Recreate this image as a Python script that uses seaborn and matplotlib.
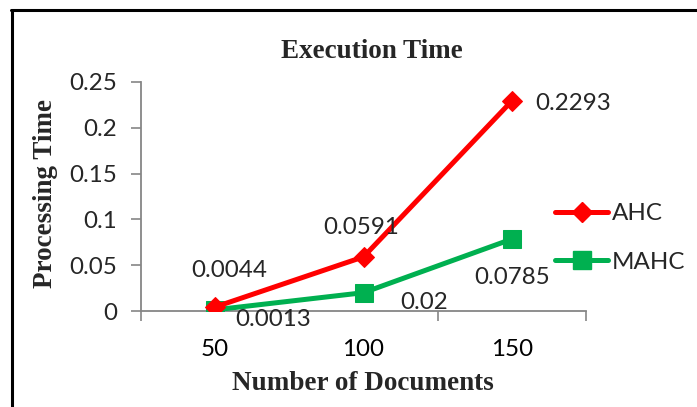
import matplotlib
matplotlib.use("Agg")
import matplotlib.pyplot as plt
import seaborn as sns
import pandas as pd
from matplotlib.lines import Line2D
from matplotlib.ticker import FixedLocator

# Data
documents = ["50", "100", "150"]
ahc_times = [0.0044, 0.0591, 0.2293]
mahc_times = [0.0013, 0.02, 0.0785]
y_ticks = [0, 0.05, 0.1, 0.15, 0.2, 0.25]
y_tick_labels = ["0", "0.05", "0.1", "0.15", "0.2", "0.25"]

sns.set_theme(style="white")
plt.rcParams["font.family"] = ["Lato", "DejaVu Sans"]

rows = []
for i, d in enumerate(documents):
    rows.append({"pos": i, "method": "AHC", "time": ahc_times[i]})
    rows.append({"pos": i, "method": "MAHC", "time": mahc_times[i]})
df = pd.DataFrame(rows)

colors = {"AHC": "#FF0000", "MAHC": "#00B050"}
markers = {"AHC": "D", "MAHC": "s"}
msizes = {"AHC": 10, "MAHC": 12.5}
lw = 3.6
fs = 17.4

fig = plt.figure(figsize=(6.97, 4.07), dpi=100)
ax = fig.add_axes([141 / 697, 1 - 311 / 407, (586 - 141) / 697, (311 - 82) / 407])

for m in ["MAHC", "AHC"]:
    sub = df[df["method"] == m]
    sns.lineplot(data=sub, x="pos", y="time", ax=ax, color=colors[m],
                 linewidth=lw, marker=markers[m], markersize=msizes[m],
                 markeredgecolor=colors[m], legend=False, zorder=3)

ax.set_xlim(-0.5, len(documents) - 0.5)
ax.set_ylim(0, 0.25)
ax.set_yticks(y_ticks)
ax.set_yticklabels(y_tick_labels)
ax.set_xticks(range(len(documents)))
ax.set_xticklabels(documents)
ax.xaxis.set_minor_locator(FixedLocator([i - 0.5 for i in range(len(documents) + 1)]))
ax.tick_params(axis="x", which="major", length=0, pad=20, labelsize=fs, colors="black")
ax.tick_params(axis="x", which="minor", length=7, width=1.2, color="#868686", direction="out", bottom=True)
ax.tick_params(axis="y", length=7, width=1.2, color="#868686", direction="out", left=True,
               labelsize=fs, pad=10)

for s in ["top", "right"]:
    ax.spines[s].set_visible(False)
for s in ["left", "bottom"]:
    ax.spines[s].set_color("#868686")
    ax.spines[s].set_linewidth(1.3)
ax.grid(False)

ax.set_xlabel("")
ax.set_ylabel("")

# Data labels
lab_kw = dict(fontsize=fs, textcoords="offset points", annotation_clip=False)
ax.annotate(f"{ahc_times[0]}", (0, ahc_times[0]), xytext=(10, 26), ha="center", va="center", **lab_kw)
ax.annotate(f"{ahc_times[1]}", (1, ahc_times[1]), xytext=(-2, 21), ha="center", va="center", **lab_kw)
ax.annotate(f"{ahc_times[2]}", (2, ahc_times[2]), xytext=(44, -2), ha="center", va="center", **lab_kw)
ax.annotate(f"{mahc_times[0]}", (0, mahc_times[0]), xytext=(42, -7), ha="center", va="center", **lab_kw)
ax.annotate(f"{mahc_times[1]}", (1, mahc_times[1]), xytext=(44, -7), ha="center", va="center", **lab_kw)
ax.annotate(f"{mahc_times[2]}", (2, mahc_times[2]), xytext=(0, -28), ha="center", va="center", **lab_kw)

# Titles
serif = ["Liberation Serif", "DejaVu Serif"]
fig.text(372 / 697, 1 - 51 / 407, "Execution Time", ha="center", va="center",
         fontsize=19.5, fontweight="bold", family=serif)
fig.text(46 / 697, 1 - 193 / 407, "Processing Time", ha="center", va="center",
         rotation=90, fontsize=19.5, fontweight="bold", family=serif)
fig.text(363 / 697, 1 - 383 / 407, "Number of Documents", ha="center", va="center",
         fontsize=19.5, fontweight="bold", family=serif)

# Legend
handles = [Line2D([], [], color=colors[m], linewidth=lw, marker=markers[m],
                  markersize=msizes[m], markeredgecolor=colors[m]) for m in ["AHC", "MAHC"]]
fig.legend(handles, ["AHC", "MAHC"], loc="center left",
           bbox_to_anchor=(555 / 697, 1 - 238 / 407), frameon=False, fontsize=fs,
           handlelength=2.2, handletextpad=0.15, labelspacing=1.15, borderpad=0,
           borderaxespad=0)

# Outer frame: top and left edges
fig.add_artist(Line2D([11 / 697, 1.0], [1 - 10 / 407, 1 - 10 / 407], color="black",
                      linewidth=2.2, transform=fig.transFigure))
fig.add_artist(Line2D([12 / 697, 12 / 697], [0, 1 - 10 / 407], color="black",
                      linewidth=2.2, transform=fig.transFigure))

fig.savefig("out.png", dpi=100)
